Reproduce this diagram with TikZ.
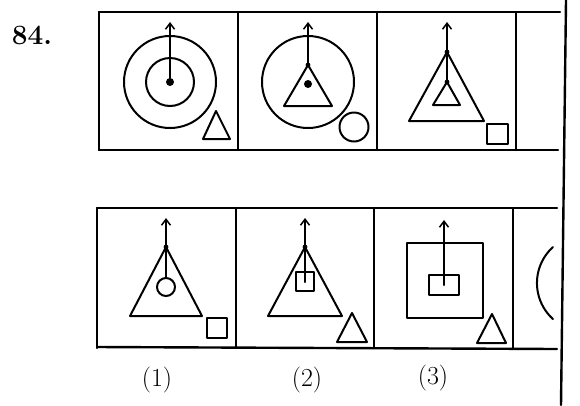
\documentclass[tikz,border=0pt]{standalone}
\usepackage{fontspec}
\usetikzlibrary{arrows.meta}
\tikzset{
  fig/.style={line width=2pt},
  frame/.style={line width=2.4pt},
  lbl/.style={font=\fontsize{26}{30}\selectfont},
}
\begin{document}
\begin{tikzpicture}[x=1pt, y=-1pt, line cap=round, line join=round,
    >={Straight Barb[length=6pt,width=9pt,line width=1.5pt]}]
  \useasboundingbox (0,0) rectangle (580,405);

  % Question number
  \node[font=\bfseries\fontsize{28}{32}\selectfont] (qnum) at (32,35) {84.};

  % Problem figures: frame
  \draw[frame] (99,12) -- (560,12);
  \draw[frame] (99,150) -- (558,150);
  \foreach \x in {99,238,377,516}
    \draw[frame] (\x,12) -- (\x,150);

  % Problem figure 1
  \coordinate (pc1) at (170,82);
  \draw[fig] (pc1) circle[radius=46];
  \draw[fig] (pc1) circle[radius=24];
  \fill (pc1) circle[radius=4];
  \coordinate (pt1) at (170,22);
  \draw[fig,->] (pc1) -- (pt1);
  \draw[fig] (203,139) -- (230,139) -- (216,111) -- cycle;

  % Problem figure 2
  \coordinate (pc2) at (308,82);
  \draw[fig] (pc2) circle[radius=46];
  \coordinate (pa2) at (308,65);
  \draw[fig] (284,106) -- (332,106) -- (pa2) -- cycle;
  \fill (308,84) circle[radius=4];
  \fill (pa2) circle[radius=2.4];
  \coordinate (pt2) at (308,22);
  \draw[fig,->] (pa2) -- (pt2);
  \draw[fig] (354,127) circle[radius=14.5];

  % Problem figure 3
  \coordinate (pa3) at (447,52);
  \coordinate (pb3) at (447,82);
  \draw[fig] (409,121) -- (484,121) -- (pa3) -- cycle;
  \draw[fig] (433,105) -- (460,105) -- (pb3) -- cycle;
  \fill (pa3) circle[radius=2.4];
  \fill (pb3) circle[radius=2.4];
  \coordinate (pt3) at (447,22);
  \draw[fig,->] (pb3) -- (pt3);
  \draw[fig] (487,124) rectangle (508,144);

  % Answer figures: frame
  \draw[frame] (97,208) -- (557,208);
  \draw[frame] (97,347) -- (557,349);
  \foreach \x in {97,236,374,513}
    \draw[frame] (\x,208) -- (\x,348);

  % Answer figure 1
  \coordinate (aa1) at (166,247);
  \draw[fig] (130,316) -- (202,316) -- (aa1) -- cycle;
  \fill (aa1) circle[radius=2.4];
  \coordinate (ac1) at (166,287);
  \draw[fig] (ac1) circle[radius=9];
  \coordinate (at1) at (166,218);
  \draw[fig,->] (166,278) -- (at1);
  \draw[fig] (207,318) rectangle (227,338);

  % Answer figure 2
  \coordinate (aa2) at (305,247);
  \draw[fig] (268,316) -- (342,316) -- (aa2) -- cycle;
  \fill (aa2) circle[radius=2.4];
  \draw[fig] (296,272) rectangle (314,291);
  \coordinate (ac2) at (305,282);
  \coordinate (at2) at (305,218);
  \draw[fig,->] (ac2) -- (at2);
  \draw[fig] (337,342) -- (367,342) -- (352,313) -- cycle;

  % Answer figure 3
  \draw[fig] (407,243) rectangle (483,318);
  \draw[fig] (429,275) rectangle (459,295);
  \coordinate (ac3) at (444,285);
  \coordinate (at3) at (444,220);
  \draw[fig,->] (ac3) -- (at3);
  \draw[fig] (477,343) -- (506,343) -- (492,314) -- cycle;

  % Answer figure 4 (cut off)
  \draw[fig] (553,247) arc[start angle=228, end angle=132, radius=48.5];

  % Labels
  \node[lbl] (l1) at (157,380) {(1)};
  \node[lbl] (l2) at (307,380) {(2)};
  \node[lbl] (l3) at (433,378) {(3)};

  % Page edge
  \draw[frame] (566,0) -- (561,405);
\end{tikzpicture}
\end{document}
